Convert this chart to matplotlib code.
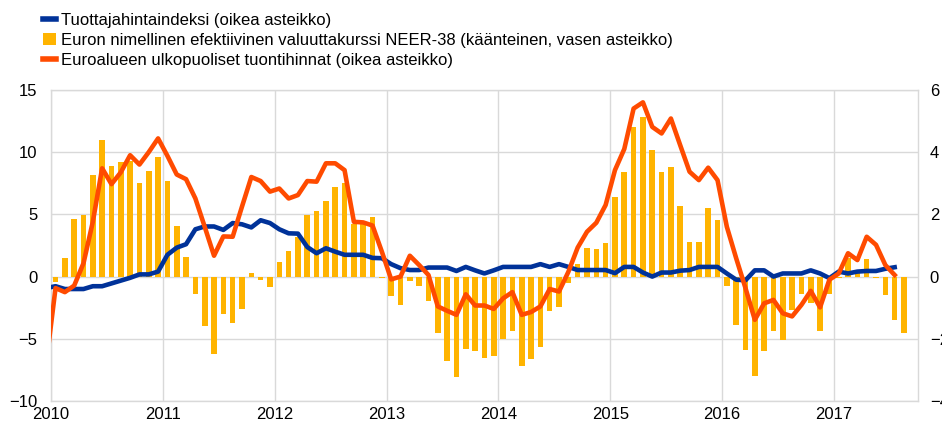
import matplotlib
matplotlib.use('Agg')
import matplotlib.pyplot as plt
from matplotlib.lines import Line2D
from matplotlib.patches import Patch
import numpy as np

plt.rcParams['font.family'] = ['Liberation Sans', 'DejaVu Sans']

# ── Data ─────────────────────────────────────────────────────────────────────
# NEER-38 (inverted, left axis), monthly Jan 2010 - Aug 2017
neer = [
    -0.45, 1.47, 4.6, 4.95, 8.2, 11.0, 8.9, 9.2, 9.3, 7.5, 8.5, 9.6,          # 2010
    7.7, 4.1, 1.55, -1.42, -3.98, -6.23, -2.97, -3.77, -2.57, 0.29, -0.29, -0.83,  # 2011
    1.18, 2.09, 3.2, 4.95, 5.3, 6.07, 7.17, 7.54, 4.2, 4.36, 4.8, -0.1,       # 2012
    -1.6, -2.3, -0.37, -0.75, -1.93, -4.55, -6.8, -8.07, -5.83, -6.0, -6.55, -6.4,  # 2013
    -5.0, -4.4, -7.2, -6.6, -5.67, -2.8, -2.45, -0.48, 1.0, 2.27, 2.19, 2.67,  # 2014
    6.36, 8.37, 12.03, 12.83, 10.13, 8.37, 8.8, 5.67, 2.8, 2.8, 5.48, 4.55,   # 2015
    -0.75, -3.88, -5.88, -7.97, -6.0, -4.4, -5.08, -2.67, -1.42, -2.14, -4.36, -1.36,  # 2016
    -0.1, 1.47, 0.3, 1.42, -0.13, -1.47, -3.48, -4.55,                        # 2017
]

# producer prices (right axis), monthly Dec 2009 - Jul 2017
ppi = [
    -0.37,
    -0.31, -0.4, -0.4, -0.4, -0.31, -0.31, -0.22, -0.13, -0.04, 0.07, 0.07, 0.16,
    0.7, 0.93, 1.04, 1.52, 1.61, 1.61, 1.5, 1.72, 1.68, 1.58, 1.81, 1.72,
    1.52, 1.39, 1.38, 0.95, 0.75, 0.91, 0.8, 0.7, 0.7, 0.7, 0.6, 0.59,
    0.4, 0.27, 0.21, 0.21, 0.29, 0.29, 0.29, 0.18, 0.31, 0.2, 0.1, 0.2,
    0.31, 0.31, 0.31, 0.31, 0.4, 0.31, 0.4, 0.31, 0.21, 0.21, 0.21, 0.21,
    0.11, 0.31, 0.31, 0.13, 0.0, 0.13, 0.13, 0.19, 0.21, 0.31, 0.31, 0.31,
    0.1, -0.1, -0.12, 0.2, 0.2, 0.0, 0.1, 0.1, 0.1, 0.2, 0.1, -0.05,
    0.16, 0.1, 0.16, 0.18, 0.18, 0.25, 0.3,
]

# extra-euro area import prices (right axis), monthly Dec 2009 - Jul 2017
imp = [
    -2.8,
    -0.37, -0.5, -0.29, 0.43, 1.76, 3.48, 2.97, 3.35, 3.9, 3.6, 4.0, 4.44,
    3.88, 3.28, 3.13, 2.51, 1.6, 0.67, 1.29, 1.28, 2.25, 3.2, 3.07, 2.73,
    2.83, 2.51, 2.62, 3.07, 3.05, 3.64, 3.64, 3.42, 1.76, 1.74, 1.64, 0.8,
    -0.09, 0.0, 0.67, 0.37, 0.05, -0.96, -1.1, -1.23, -0.57, -0.93, -0.93, -1.04,
    -0.7, -0.5, -1.23, -1.14, -0.96, -0.4, -0.48, 0.15, 0.93, 1.44, 1.73, 2.3,
    3.42, 4.1, 5.4, 5.6, 4.81, 4.6, 5.08, 4.22, 3.37, 3.1, 3.5, 3.1,
    1.6, 0.59, -0.37, -1.39, -0.86, -0.75, -1.18, -1.28, -0.91, -0.46, -0.99, -0.1,
    0.1, 0.75, 0.53, 1.28, 1.02, 0.37, 0.05,
]

years = [2010, 2011, 2012, 2013, 2014, 2015, 2016, 2017]
left_ticks = [-10, -5, 0, 5, 10, 15]
right_ticks = [-4, -2, 0, 2, 4, 6]

labels = [
    'Tuottajahintaindeksi (oikea asteikko)',
    'Euron nimellinen efektiivinen valuuttakurssi NEER-38 (käänteinen, vasen asteikko)',
    'Euroalueen ulkopuoliset tuontihinnat (oikea asteikko)',
]

BLUE = '#003299'
YELLOW = '#ffb400'
ORANGE = '#ff4b00'
GRID = '#d9d9d9'
FS = 12

# month centres
x_bar = 2010 + (np.arange(len(neer)) + 0.5) / 12
x_line = 2010 + (np.arange(len(ppi)) - 0.5) / 12

# ── Plot ─────────────────────────────────────────────────────────────────────
fig = plt.figure(figsize=(9.42, 4.28), dpi=100)
ax = fig.add_axes([0.054, 0.063, 0.9205, 0.727])
ax2 = ax.twinx()

ax.bar(x_bar, neer, width=0.6 / 12, color=YELLOW, zorder=2)
ax2.plot(x_line, ppi, color=BLUE, lw=3.3, solid_joinstyle='round', zorder=3)
ax2.plot(x_line, imp, color=ORANGE, lw=3.3, solid_joinstyle='round', zorder=4)

ax.set_xlim(2010, 2017.75)
ax.set_ylim(-10, 15)
ax2.set_ylim(-4, 6)

ax.set_xticks(years)
ax.set_xticklabels([str(y) for y in years])
ax.set_yticks(left_ticks)
ax2.set_yticks(right_ticks)

ax.set_axisbelow(True)
ax.grid(True, color=GRID, lw=1.0)
for s in ax.spines.values():
    s.set_color(GRID)
    s.set_linewidth(1.0)
for s in ax2.spines.values():
    s.set_visible(False)

ax.tick_params(axis='both', length=0, labelsize=FS, colors='black')
ax.tick_params(axis='y', pad=9.5)
ax.tick_params(axis='x', pad=4)
ax2.tick_params(axis='y', length=0, labelsize=FS, pad=8.5, colors='black')

handles = [
    Line2D([], [], color=BLUE, lw=4),
    Patch(facecolor=YELLOW, edgecolor='none'),
    Line2D([], [], color=ORANGE, lw=4),
]
fig.legend(handles, labels, loc='upper left', bbox_to_anchor=(0.033, 0.998),
           frameon=False, fontsize=FS, handlelength=0.8, handleheight=0.8,
           handletextpad=0.3, labelspacing=0.3, borderaxespad=0.3)

plt.savefig('out.png', dpi=100)
